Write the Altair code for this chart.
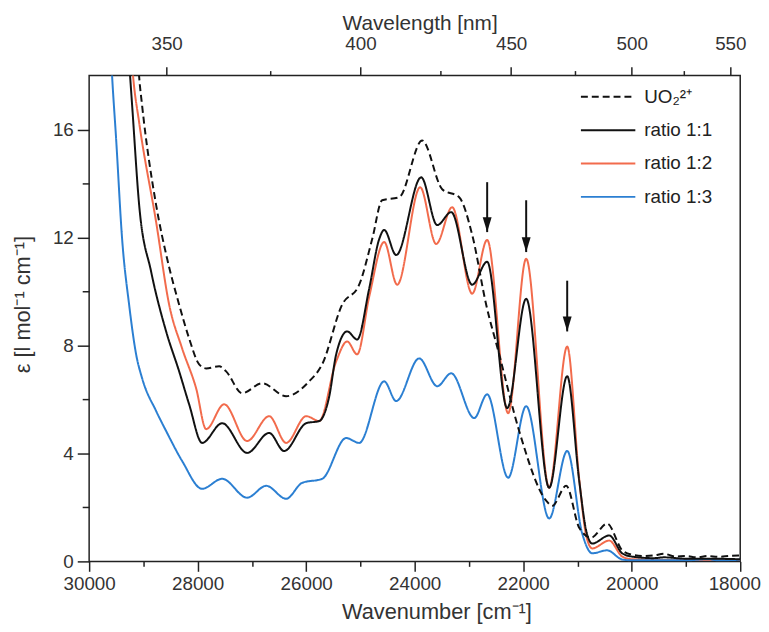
import altair as alt
import pandas as pd

# ---------------- data ----------------
series_names = ["UO₂²⁺", "ratio 1:1", "ratio 1:2", "ratio 1:3"]
series_colors = ["#111111", "#111111", "#f26b4c", "#2b7fd2"]

wn_uo2 = [29150, 29078, 29023, 28765, 28562, 28341, 28157, 27972, 27843, 27604, 27475, 27180,
          26812, 26369, 25945, 25705, 25337, 25023, 24783, 24599, 24286, 23862, 23493, 23180,
          22940, 22682, 22442, 22074, 21576, 21465, 21207, 20968, 20747, 20452, 20175, 20000,
          19800, 19600, 19400, 19200, 19000, 18800, 18600, 18400, 18200, 18000]
eps_uo2 = [20.5, 17.95, 16.88, 13.2, 11.21, 9.51, 8.26, 7.3, 7.15, 7.23, 7.04, 6.23,
           6.6, 6.12, 6.67, 7.3, 9.51, 10.25, 11.94, 13.38, 13.49, 15.59, 13.79, 13.49,
           12.1, 9.51, 7.67, 4.83, 2.25, 2.06, 2.8, 1.25, 0.88, 1.4, 0.41, 0.25,
           0.2, 0.22, 0.28, 0.18, 0.2, 0.15, 0.2, 0.17, 0.2, 0.22]

wn_r11 = [29330, 29244, 29207, 29078, 28857, 28581, 28341, 28157, 27917, 27548, 27088, 26682,
          26406, 26000, 25760, 25576, 25447, 25244, 25060, 24839, 24654, 24562, 24341, 23880,
          23585, 23327, 22940, 22664, 22295, 21945, 21521, 21189, 20968, 20839, 20728, 20415,
          20175, 20000, 19600, 19400, 19000, 18600, 18000]
eps_r11 = [20.5, 17.95, 16.88, 13.2, 10.73, 8.52, 7.04, 5.82, 4.39, 5.12, 4.02, 4.76,
           4.09, 5.12, 5.2, 6.1, 7.67, 8.52, 8.22, 10.1, 11.94, 12.28, 11.35, 14.23,
           12.46, 12.94, 10.25, 11.1, 5.68, 9.73, 2.73, 6.86, 2.99, 1.14, 0.66, 0.96,
           0.3, 0.18, 0.12, 0.15, 0.1, 0.1, 0.08]

wn_r12 = [29280, 29189, 29078, 28765, 28525, 28286, 28028, 27843, 27512, 27088, 26682, 26369,
          26000, 25760, 25447, 25244, 25060, 24839, 24562, 24323, 23899, 23604, 23309, 22940,
          22664, 22277, 21945, 21521, 21189, 20968, 20839, 20728, 20415, 20175, 20000, 19000, 18000]
eps_r12 = [20.5, 17.95, 16.26, 12.57, 9.51, 7.89, 6.41, 4.9, 5.82, 4.46, 5.38, 4.39,
           5.38, 5.2, 7.41, 8.15, 7.67, 9.8, 11.83, 10.25, 13.86, 11.76, 13.12, 9.92,
           11.91, 5.49, 11.21, 2.73, 7.96, 3.06, 0.96, 0.48, 0.77, 0.18, 0.08, 0.05, 0.05]

wn_r13 = [29640, 29576, 29502, 29392, 29263, 29134, 29023, 28765, 28581, 28286, 27917, 27548,
          27088, 26737, 26369, 26074, 25705, 25263, 25023, 24562, 24341, 23917, 23585, 23327,
          22903, 22664, 22277, 21945, 21521, 21189, 20912, 20728, 20452, 20175, 20000, 19000,
          18600, 18400, 18000]
eps_r13 = [20.5, 17.95, 15.63, 11.94, 9.51, 7.67, 6.78, 5.57, 4.83, 3.72, 2.69, 3.06,
           2.36, 2.8, 2.32, 2.91, 3.06, 4.57, 4.39, 6.67, 5.94, 7.52, 6.49, 6.97,
           5.31, 6.19, 3.1, 5.75, 1.59, 4.09, 1.03, 0.3, 0.41, 0.07, 0.04, 0.04,
           0.08, 0.04, 0.06]

# arrows marking the new bands
arrow_wn = [22664, 21945, 21189]
arrow_top = [14.05, 13.38, 10.4]
arrow_tip = [12.2, 11.46, 8.52]

# axis tick values
x_major = [30000, 28000, 26000, 24000, 22000, 20000, 18000]
x_minor = [29000, 27000, 25000, 23000, 21000, 19000]
y_major = [0, 4, 8, 12, 16]
y_minor = [2, 6, 10, 14]
nm_major = [350, 400, 450, 500, 550]
nm_minor = [375, 425, 475, 525]

# ---------------- tables ----------------
frames = []
for name, wn, ep in [("ratio 1:2", wn_r12, eps_r12), ("ratio 1:3", wn_r13, eps_r13),
                     ("ratio 1:1", wn_r11, eps_r11), ("UO₂²⁺", wn_uo2, eps_uo2)]:
    frames.append(pd.DataFrame({"wn": wn, "eps": ep, "series": name}))
df = pd.concat(frames, ignore_index=True)
df["order"] = range(len(df))

arrows = pd.DataFrame({"wn": arrow_wn, "top": arrow_top, "tip": arrow_tip})

x_scale = alt.Scale(domain=[18000, 30000], reverse=True, nice=False, zero=False)
y_scale = alt.Scale(domain=[0, 18], nice=False, zero=False)

FONT = "Liberation Sans"

legend = alt.Legend(
    title=None, orient="none", legendX=515, legendY=12,
    symbolType="M-5.5,0L5.5,0", symbolSize=100, symbolStrokeWidth=2,
    labelFont=FONT, labelFontSize=19, labelColor="#222", labelOffset=27,
    rowPadding=13.7, padding=0,
)

lines = alt.Chart(df).mark_line(clip=True, interpolate="monotone", strokeWidth=2).encode(
    x=alt.X("wn:Q", scale=x_scale,
            axis=alt.Axis(orient="bottom", values=x_major, title="Wavenumber [cm⁻¹]",
                          tickSize=10, labelPadding=3, titlePadding=9, format="d",
                          titleFontSize=22, titleX=351,
                          labelOffset={"condition": {"test": "datum.value == 18000",
                                                     "value": -6},
                                       "value": 0})),
    y=alt.Y("eps:Q", scale=y_scale,
            axis=alt.Axis(orient="left", values=y_major, title="ε [l mol⁻¹ cm⁻¹]",
                          tickSize=12, labelPadding=4, titlePadding=18, titleY=231,
                          titleFontSize=22)),
    color=alt.Color("series:N", scale=alt.Scale(domain=series_names, range=series_colors),
                    legend=legend),
    strokeDash=alt.StrokeDash("series:N",
                              scale=alt.Scale(domain=series_names,
                                              range=[[7, 4], [1, 0], [1, 0], [1, 0]]),
                              legend=legend),
    order="order:Q",
)

ghost = alt.Chart(arrows).mark_point(opacity=0)

bottom_minor = ghost.encode(
    x=alt.X("wn:Q", scale=x_scale,
            axis=alt.Axis(orient="bottom", values=x_minor, labels=False, tickSize=5, title=None)),
    y=alt.Y("top:Q", scale=y_scale, axis=None),
)
top_major = ghost.encode(
    x=alt.X("wn:Q", scale=x_scale,
            axis=alt.Axis(orient="top", values=[1e7 / v for v in nm_major],
                          labelExpr="format(10000000/datum.value, '.0f')",
                          tickSize=9, labelPadding=13, titlePadding=2,
                          title="Wavelength [nm]", titleFontSize=21, titleX=334)),
    y=alt.Y("top:Q", scale=y_scale, axis=None),
)
top_minor = ghost.encode(
    x=alt.X("wn:Q", scale=x_scale,
            axis=alt.Axis(orient="top", values=[1e7 / v for v in nm_minor], labels=False,
                          tickSize=5, title=None)),
    y=alt.Y("top:Q", scale=y_scale, axis=None),
)
left_minor = ghost.encode(
    x=alt.X("wn:Q", scale=x_scale, axis=None),
    y=alt.Y("top:Q", scale=y_scale,
            axis=alt.Axis(orient="left", values=y_minor, labels=False, tickSize=7, title=None)),
)

shafts = alt.Chart(arrows).mark_rule(color="#111111", strokeWidth=2).encode(
    x=alt.X("wn:Q", scale=x_scale, axis=None),
    y=alt.Y("top:Q", scale=y_scale, axis=None),
    y2="tip:Q",
)
heads = alt.Chart(arrows).mark_point(
    shape="M-0.3,-1L0.3,-1L0,0Z", size=900, filled=True, color="#111111", opacity=1
).encode(
    x=alt.X("wn:Q", scale=x_scale, axis=None),
    y=alt.Y("tip:Q", scale=y_scale, axis=None),
)

chart = (
    alt.layer(lines, bottom_minor, top_major, top_minor, left_minor, shafts, heads)
    .resolve_axis(x="independent", y="independent")
    .properties(
        width=658, height=491,
        padding={"left": 82, "top": 65, "right": 21, "bottom": 60},
        autosize=alt.AutoSizeParams(type="none"),
    )
    .configure_view(stroke="#222222", strokeWidth=1.5)
    .configure_axis(
        domain=False, grid=False, tickColor="#222222", tickWidth=1.5,
        labelFont=FONT, labelFontSize=19, labelColor="#333333",
        labelFlush=False, labelOverlap=False,
        titleFont=FONT, titleFontSize=22, titleFontWeight="normal", titleColor="#333333",
    )
)

chart.save("out.html", embed_options={"renderer": "svg", "actions": False})
